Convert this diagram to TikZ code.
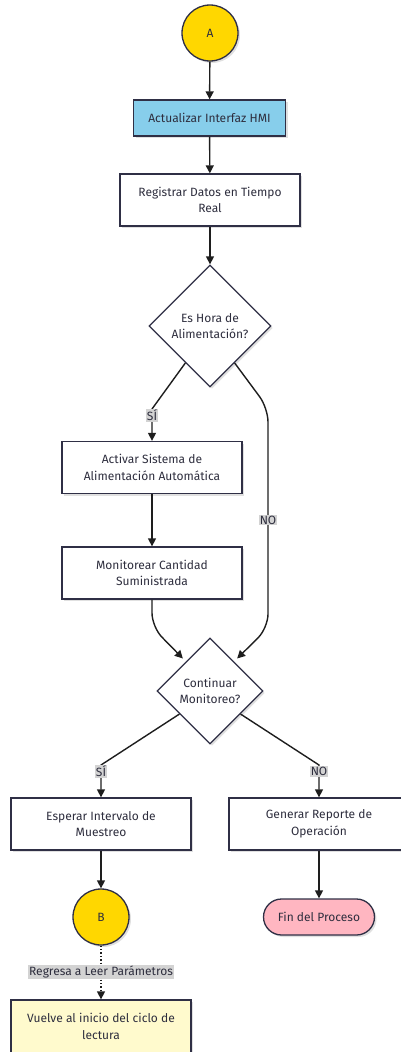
\documentclass[tikz,border=0pt]{standalone}
\usepackage{fontspec}
\setmainfont{Fira Sans}
\usetikzlibrary{shapes.geometric,arrows.meta,calc,shadows}

\definecolor{strokec}{HTML}{2F2F45}
\definecolor{edgec}{HTML}{1E1E1E}
\definecolor{textc}{HTML}{2E2E3E}
\definecolor{goldc}{HTML}{FFD700}
\definecolor{skyc}{HTML}{87CEEB}
\definecolor{pinkc}{HTML}{FFB6C1}
\definecolor{lemonc}{HTML}{FFFACD}
\definecolor{lblbg}{HTML}{D3D3D3}

\tikzset{
  x=1pt, y=-1pt,
  every node/.style={font=\fontsize{12}{16.5}\selectfont, text=textc},
  shade/.style={drop shadow={shadow xshift=2pt, shadow yshift=-2pt, opacity=0.12, fill=black}},
  procbox/.style={draw=strokec, line width=1.3pt, fill=white, rectangle,
    minimum width=180pt, minimum height=52pt, align=center, inner sep=2pt, shade},
  connector/.style={draw=strokec, line width=1.3pt, fill=goldc, circle,
    minimum size=56pt, inner sep=0pt, shade},
  decision/.style={draw=strokec, line width=1.3pt, fill=white, diamond, aspect=1,
    inner sep=0pt, align=center, shade},
  flow/.style={draw=edgec, line width=1.4pt, -{Triangle[length=8pt,width=8pt]}},
  edgelabel/.style={fill=lblbg, inner sep=1pt, font=\fontsize{12}{13}\selectfont}
}

\begin{document}
\begin{tikzpicture}
  \useasboundingbox (0,0) rectangle (401,1052);
  \clip (0,0) rectangle (401,1052);

  % nodes
  \node[connector] (A) at (210,33) {A};
  \node[procbox, fill=skyc, minimum width=152pt, minimum height=36pt] (hmi) at (209.5,118) {Actualizar Interfaz HMI};
  \node[procbox] (reg) at (210,200) {Registrar Datos en Tiempo\\Real};
  \node[decision, minimum width=122pt, minimum height=122pt] (d1) at (210,326) {Es Hora de\\Alimentación?};
  \node[procbox] (act) at (152,467.5) {Activar Sistema de\\Alimentación Automática};
  \node[procbox] (mon) at (152,573) {Monitorear Cantidad\\Suministrada};
  \node[decision, minimum width=106pt, minimum height=106pt] (d2) at (210,691) {Continuar\\Monitoreo?};
  \node[procbox] (esp) at (101,824) {Esperar Intervalo de\\Muestreo};
  \node[procbox] (gen) at (319,824) {Generar Reporte de\\Operación};
  \node[connector] (B) at (101,917) {B};
  \node[draw=strokec, line width=1.3pt, fill=pinkc, rounded corners=18pt,
        minimum width=111pt, minimum height=36pt, shade] (fin) at (319,917) {Fin del Proceso};
  \node[procbox, fill=lemonc, minimum height=53pt] (vuel) at (101,1026.5) {Vuelve al inicio del ciclo de\\lectura};

  % main sequence
  \draw[flow] (A) -- (hmi);
  \draw[flow] (hmi) -- (reg);
  \draw[flow] (reg) -- (d1);

  % feeding decision
  \draw[flow] ($(d1.south)!0.4!(d1.west)$) -- (152,409) -- (act.north);
  \node[edgelabel] (si1) at (152,415.5) {SÍ};
  \draw[flow] (act) -- (mon);
  \draw[flow, rounded corners=14pt] ($(d1.south)!0.4!(d1.east)$) -- (268,408) -- (268,628) -- ($(d2.north)!0.45!(d2.east)+(3,-3)$);
  \node[edgelabel] (no1) at (268,520) {NO};
  \draw[flow, rounded corners=14pt] (mon.south) -- (152,627) -- ($(d2.north)!0.45!(d2.west)+(-3,-3)$);

  % monitoring decision
  \draw[flow] ($(d2.south)!0.57!(d2.west)$) -- (101,765) -- (esp.north);
  \node[edgelabel] (si2) at (101,771.5) {SÍ};
  \draw[flow] ($(d2.south)!0.57!(d2.east)$) -- (319,765) -- (gen.north);
  \node[edgelabel] (no2) at (319,771.5) {NO};

  % ending
  \draw[flow] (esp) -- (B);
  \draw[flow] (gen) -- (fin);
  \draw[flow, dotted] (B) -- (vuel);
  \node[edgelabel] (back) at (101,972) {Regresa a Leer Parámetros};
\end{tikzpicture}
\end{document}
